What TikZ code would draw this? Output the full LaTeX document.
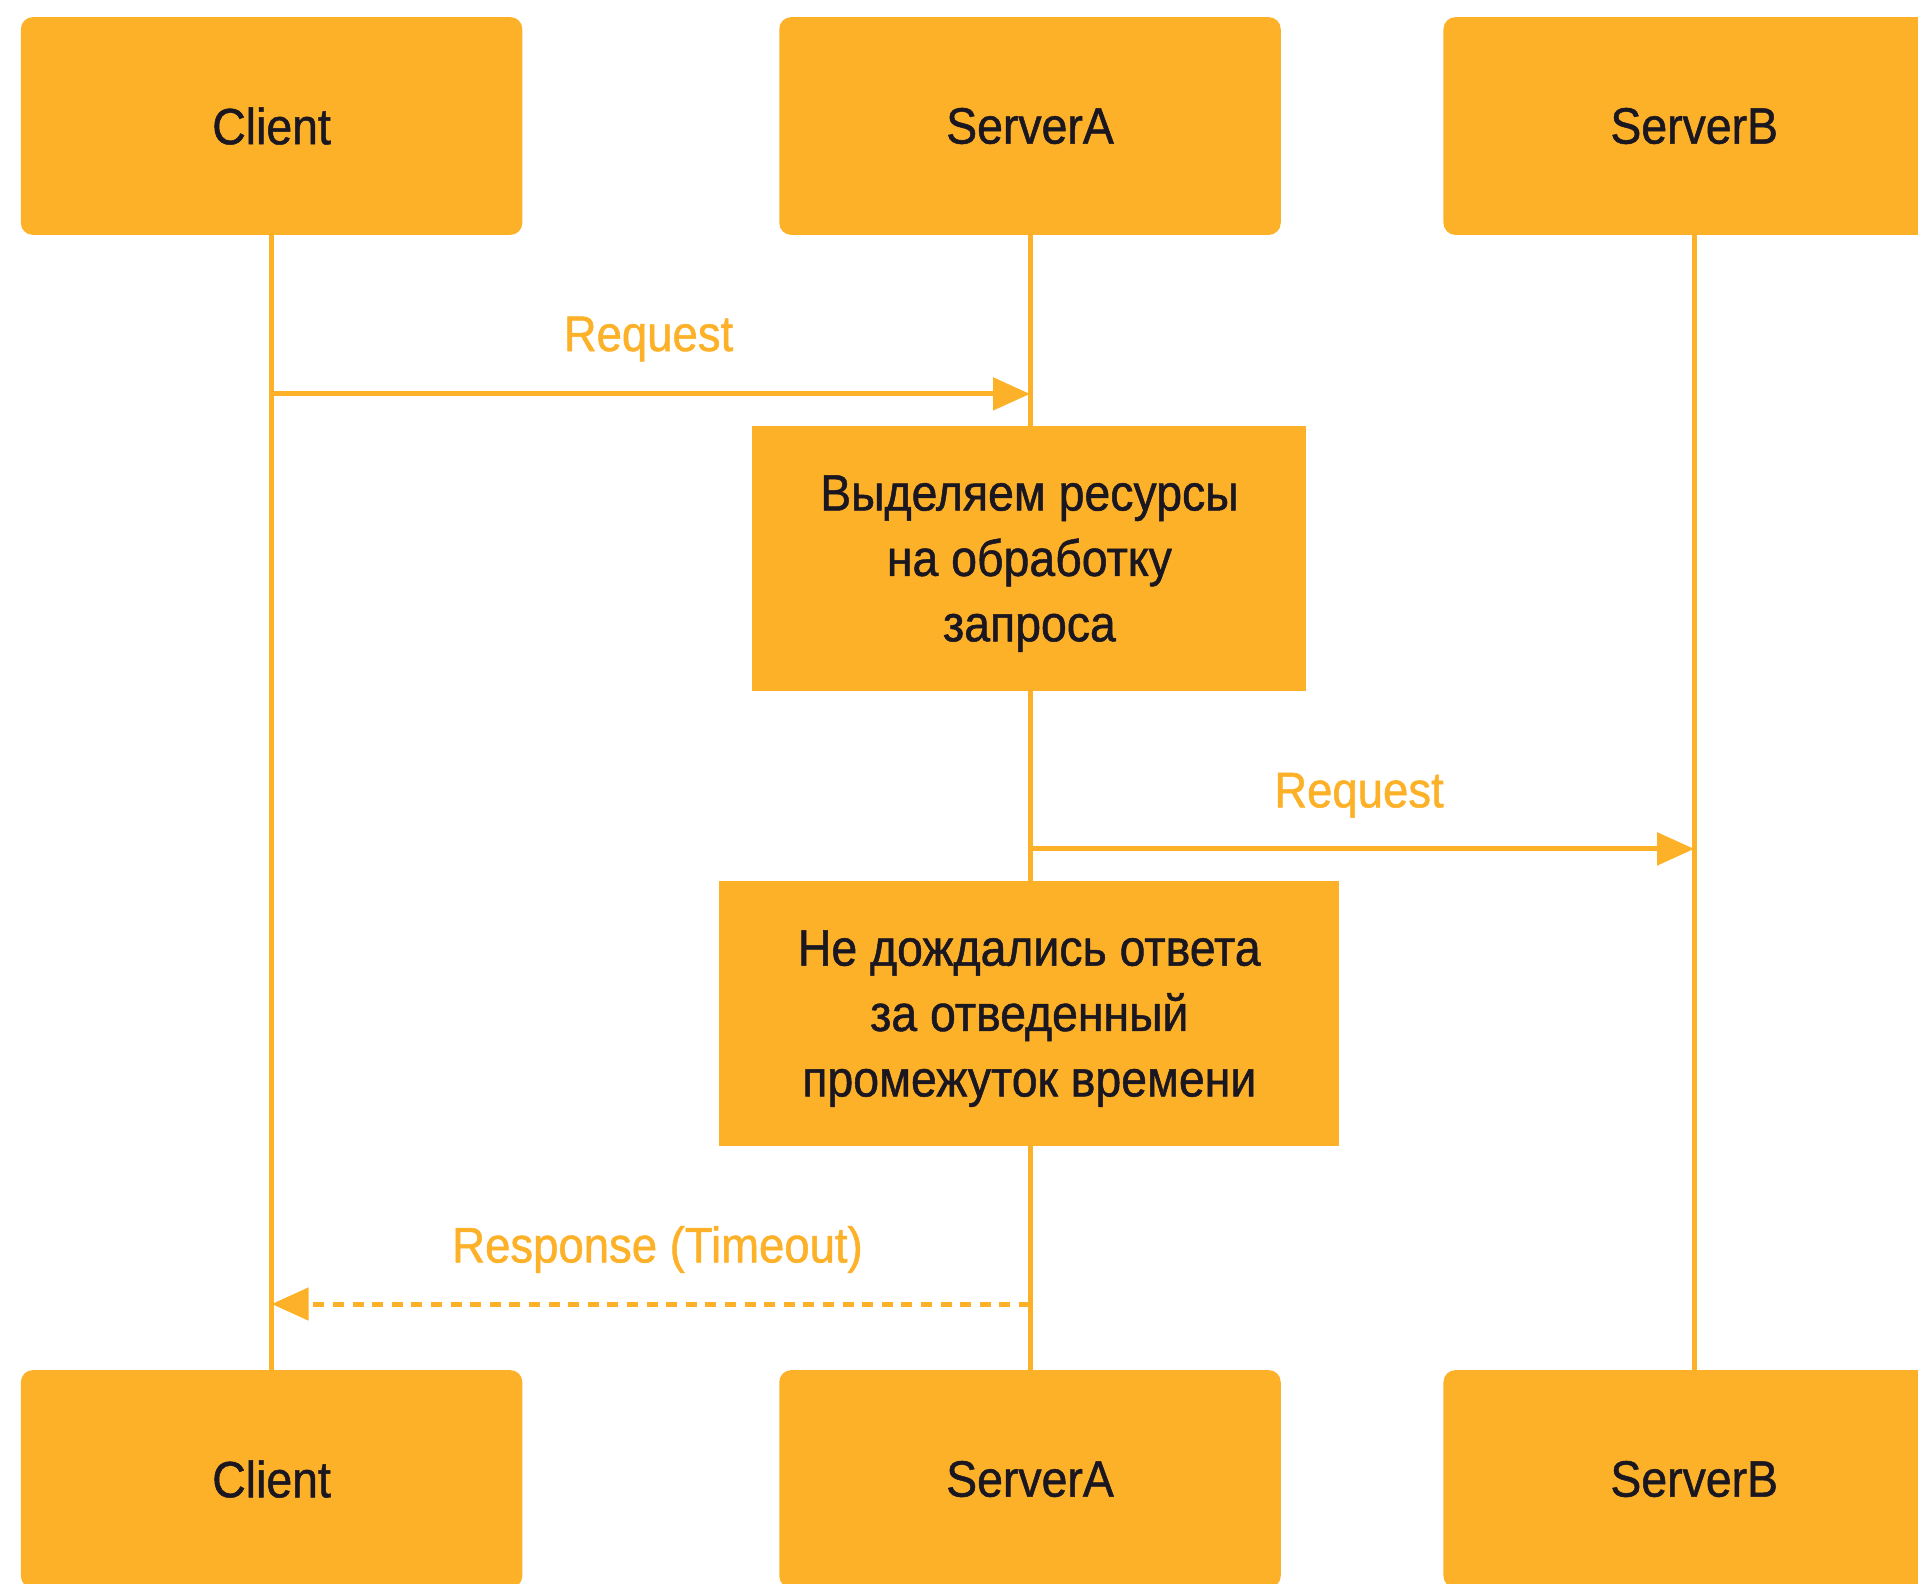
\documentclass[tikz,border=0pt]{standalone}
\usepackage{fontspec}
\setmainfont{Liberation Sans}[FakeStretch=0.91,FakeBold=1]
\usetikzlibrary{arrows.meta}
\definecolor{accent}{RGB}{253,177,40}
\definecolor{ink}{RGB}{26,23,33}
% strut that lowers a centred multi-line text block a little
\newcommand{\toppad}{\rule{0pt}{45.5pt}}

\begin{document}
\begin{tikzpicture}[x=1pt,y=-1pt,
  actor/.style={fill=accent, rounded corners=12pt, minimum width=501.5pt,
    minimum height=217.8pt, inner sep=0pt, text=ink,
    font=\fontsize{51}{61}\selectfont},
  procbox/.style={fill=accent, minimum height=265.4pt, inner sep=0pt,
    text=ink, align=center, font=\fontsize{51}{65.4}\selectfont},
  lifeline/.style={draw=accent, line width=5pt},
  msg/.style={draw=accent, line width=5pt,
    -{Triangle[length=37pt,width=32pt]}},
  reply/.style={msg, dash pattern=on 11pt off 8.6pt},
  msglabel/.style={text=accent, anchor=base, inner sep=0pt,
    font=\fontsize{50}{60}\selectfont}
]
\useasboundingbox (0,0) rectangle (1918,1583);

% participants, top and bottom
\node[actor] (clientTop)  at (271.6,126) {Client};
\node[actor] (serverATop) at (1030,126)  {ServerA};
\node[actor] (serverBTop) at (1694.2,126) {ServerB};
\node[actor] (clientBot)  at (271.6,1479) {Client};
\node[actor] (serverABot) at (1030,1479)  {ServerA};
\node[actor] (serverBBot) at (1694.2,1479) {ServerB};

% lifelines
\draw[lifeline] (clientTop.south)  -- (clientBot.north);
\draw[lifeline] (serverATop.south) -- (serverABot.north);
\draw[lifeline] (serverBTop.south) -- (serverBBot.north);

% activity boxes on ServerA
\node[procbox, minimum width=554pt] (alloc) at (1029.4,558.4)
  {\toppad Выделяем ресурсы\\на обработку\\запроса};
\node[procbox, minimum width=620pt] (wait) at (1029.3,1013.5)
  {\toppad Не дождались ответа\\за отведенный\\промежуток времени};

% message end points on the lifelines
\coordinate (req1from) at (clientTop.south |- 0,393.9);
\coordinate (req1to)   at (serverATop.south |- 0,393.9);
\coordinate (req2from) at (serverATop.south |- 0,848.9);
\coordinate (req2to)   at (serverBTop.south |- 0,848.9);
\coordinate (respfrom) at (serverATop.south |- 0,1304);
\coordinate (respto)   at (clientTop.south |- 0,1304);

% messages
\draw[msg]   (req1from) -- (req1to);
\draw[msg]   (req2from) -- (req2to);
\draw[reply] (respfrom) -- (respto);

% message labels
\node[msglabel] (req1label) at (648.5,351)  {Request};
\node[msglabel] (req2label) at (1359,807.3) {Request};
\node[msglabel] (resplabel) at (657.5,1262.4) {Response (Timeout)};
\end{tikzpicture}
\end{document}
